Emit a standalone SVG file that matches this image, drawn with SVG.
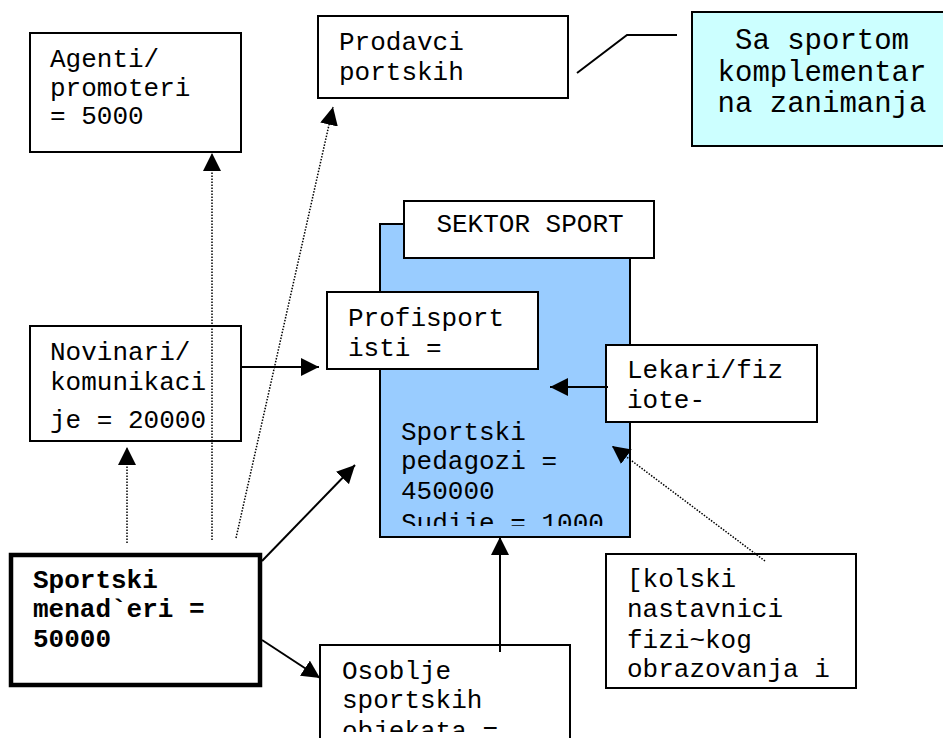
<svg xmlns="http://www.w3.org/2000/svg" width="943" height="738" viewBox="0 0 943 738">
<style>
.box{fill:#ffffff;stroke:#000000;stroke-width:2}
.t{font-family:"Liberation Mono","Courier New",monospace;font-size:26px;fill:#000000}
.tb{font-family:"Liberation Mono","Courier New",monospace;font-size:26px;font-weight:bold;fill:#000000}
.big{font-family:"Liberation Mono","Courier New",monospace;font-size:29px;fill:#000000}
.solid{fill:none;stroke:#000000;stroke-width:2}
.dot{fill:none;stroke:#000000;stroke-width:1.5;stroke-dasharray:1.5 1.5}
</style>
<defs>
<marker id="ah" markerUnits="userSpaceOnUse" markerWidth="18" markerHeight="18" viewBox="0 0 16 16" refX="16" refY="8" orient="auto">
<path d="M0,0 L16,8 L0,16 Z" fill="#000000"/>
</marker>
<clipPath id="clipSud"><rect x="380" y="200" width="250" height="326"/></clipPath>
<clipPath id="clipOso"><rect x="320" y="645" width="250" height="87"/></clipPath>
</defs>

<g id="sektor-sport">
<rect x="380" y="224" width="250" height="313" fill="#99ccff" stroke="#000000" stroke-width="2"/>
<rect class="box" x="404" y="201" width="250" height="57"/>
<text class="t" x="530" y="232" text-anchor="middle">SEKTOR SPORT</text>
<g clip-path="url(#clipSud)">
<text class="t" x="401" y="440">Sportski</text>
<text class="t" x="401" y="469">pedagozi =</text>
<text class="t" x="401" y="499">450000</text>
<text class="t" x="401" y="531">Sudije = 1000</text>
</g>
</g>

<g id="agenti">
<rect class="box" x="30" y="33" width="211" height="119"/>
<text class="t" x="50" y="67">Agenti/</text>
<text class="t" x="50" y="96">promoteri</text>
<text class="t" x="50" y="124">= 5000</text>
</g>

<g id="prodavci">
<rect class="box" x="318" y="16" width="250" height="82"/>
<text class="t" x="339" y="50">Prodavci</text>
<text class="t" x="339" y="80">portskih</text>
</g>

<g id="komplementarna">
<rect x="692" y="12" width="254" height="134" fill="#ccffff" stroke="#000000" stroke-width="2"/>
<text class="big" x="822" y="49" text-anchor="middle">Sa sportom</text>
<text class="big" x="822" y="81" text-anchor="middle">komplementar</text>
<text class="big" x="822" y="112" text-anchor="middle">na zanimanja</text>
</g>

<g id="profisportisti">
<rect class="box" x="327" y="292" width="211" height="77"/>
<text class="t" x="348" y="326">Profisport</text>
<text class="t" x="348" y="356">isti =</text>
</g>

<g id="novinari">
<rect class="box" x="30" y="326" width="211" height="115"/>
<text class="t" x="50" y="360">Novinari/</text>
<text class="t" x="50" y="390">komunikaci</text>
<text class="t" x="50" y="428">je = 20000</text>
</g>

<g id="lekari">
<rect class="box" x="606" y="345" width="211" height="77"/>
<text class="t" x="627" y="378">Lekari/fiz</text>
<text class="t" x="627" y="408">iote-</text>
</g>

<g id="skolski">
<rect class="box" x="606" y="554" width="250" height="134"/>
<text class="t" x="627" y="587">[kolski</text>
<text class="t" x="627" y="617">nastavnici</text>
<text class="t" x="627" y="648">fizi~kog</text>
<text class="t" x="627" y="677">obrazovanja i</text>
</g>

<g id="menadzeri">
<rect x="11" y="555" width="249" height="130" fill="#ffffff" stroke="#000000" stroke-width="4.5"/>
<text class="tb" x="33" y="588">Sportski</text>
<text class="tb" x="33" y="617">menad`eri =</text>
<text class="tb" x="33" y="647">50000</text>
</g>

<g id="osoblje">
<rect class="box" x="320" y="645" width="250" height="100"/>
<g clip-path="url(#clipOso)">
<text class="t" x="342" y="679">Osoblje</text>
<text class="t" x="342" y="708">sportskih</text>
<text class="t" x="342" y="739">objekata =</text>
</g>
</g>

<g id="connectors">
<polyline class="solid" points="577,73 627,35 677,35"/>
<line class="solid" x1="241" y1="367" x2="319" y2="367" marker-end="url(#ah)"/>
<line class="solid" x1="608" y1="387" x2="550" y2="387" marker-end="url(#ah)"/>
<line class="dot" x1="765" y1="561" x2="612" y2="446" marker-end="url(#ah)"/>
<line class="dot" x1="127" y1="543" x2="127" y2="447" marker-end="url(#ah)"/>
<line class="dot" x1="212" y1="540" x2="212" y2="153" marker-end="url(#ah)"/>
<line class="dot" x1="236" y1="538" x2="333" y2="107" marker-end="url(#ah)"/>
<line class="solid" x1="262" y1="561" x2="355" y2="465" marker-end="url(#ah)"/>
<line class="solid" x1="262" y1="640" x2="320" y2="678" marker-end="url(#ah)"/>
<line class="solid" x1="500" y1="652" x2="500" y2="537" marker-end="url(#ah)"/>
</g>
</svg>
